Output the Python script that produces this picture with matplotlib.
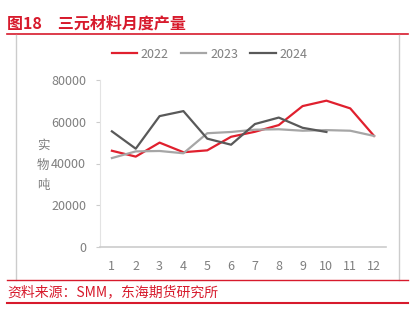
import matplotlib
matplotlib.use("Agg")
import matplotlib.pyplot as plt
from matplotlib.lines import Line2D

plt.rcParams['font.family'] = ['Noto Sans CJK SC', 'DejaVu Sans']

months = [1, 2, 3, 4, 5, 6, 7, 8, 9, 10, 11, 12]
y2022 = [46100, 43300, 50000, 45400, 46300, 52800, 55200, 58400, 67500, 70100, 66400, 53200]
y2023 = [42600, 45800, 46000, 44900, 54500, 55100, 56200, 56400, 55700, 56000, 55700, 53200]
y2024 = [55400, 47100, 62700, 65100, 51900, 49000, 58900, 62000, 57100, 55100]
yticks = [0, 20000, 40000, 60000, 80000]

W, H = 414, 324
fig = plt.figure(figsize=(W / 100, H / 100), dpi=100)

red = '#E0202E'
tick_col = '#7F7F7F'
frame = '#CCCCCC'

def fx(px):
    return px / W

def fy(py):
    return 1 - py / H

# title and rules
fig.text(fx(7), fy(24), '图18　三元材料月度产量', color='#D71A2C', fontsize=11.5,
         fontweight='bold', ha='left', va='center')
fig.add_artist(Line2D([fx(7), fx(408)], [fy(34), fy(34)], color='#D71A2C', lw=1.2))
# light frame around the chart
fig.add_artist(Line2D([fx(16), fx(16)], [fy(35), fy(280)], color=frame, lw=1.0))
fig.add_artist(Line2D([fx(399), fx(399)], [fy(35), fy(280)], color=frame, lw=1.0))
fig.add_artist(Line2D([fx(7), fx(408)], [fy(280), fy(280)], color='#D71A2C', lw=1.0))
fig.text(fx(7), fy(292), '资料来源：SMM，东海期货研究所', color='#D71A2C', fontsize=10,
         ha='left', va='center')
fig.add_artist(Line2D([fx(7), fx(408)], [fy(303), fy(303)], color='#D71A2C', lw=1.5))

ax = fig.add_axes([fx(100), fy(247), 286 / W, 167 / H])
ax.plot(months, y2022, color=red, lw=1.6, label='2022')
ax.plot(months, y2023, color='#A6A6A6', lw=1.6, label='2023')
ax.plot(months[:len(y2024)], y2024, color='#595959', lw=1.6, label='2024')

ax.set_xlim(0.5, 12.5)
ax.set_ylim(0, 80000)
ax.set_xticks(months)
ax.set_yticks(yticks)
ax.tick_params(axis='x', length=0, pad=9, labelsize=9, labelcolor=tick_col)
ax.tick_params(axis='y', length=3, width=0.8, color=frame, pad=7, labelsize=9, labelcolor=tick_col)
for s in ['top', 'right']:
    ax.spines[s].set_visible(False)
ax.spines['left'].set_color('#E3E3E3')
ax.spines['bottom'].set_color(frame)
ax.spines['bottom'].set_linewidth(1.2)

fig.text(fx(43), fy(165), '实\n物\n吨', color=tick_col, fontsize=9,
         ha='center', va='center', linespacing=1.7)

fig.legend(loc='center left', bbox_to_anchor=(fx(112), fy(54)), ncol=3, frameon=False,
           fontsize=9, labelcolor=tick_col, handlelength=2.0, columnspacing=1.0,
           handletextpad=0.3, borderpad=0, borderaxespad=0)

fig.savefig('out.png', dpi=100)
